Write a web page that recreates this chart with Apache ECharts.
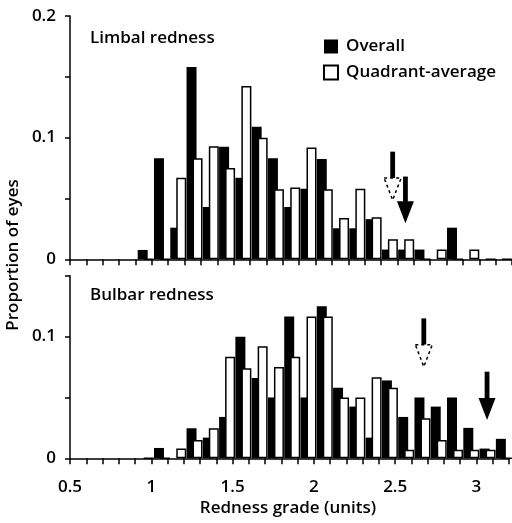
<!DOCTYPE html>
<html>
<head>
<meta charset="utf-8">
<script src="https://cdn.jsdelivr.net/npm/echarts@6/dist/echarts.min.js"></script>
<style>
html,body{margin:0;padding:0;background:#fff;}
#chart{width:512px;height:523px;}
</style>
</head>
<body>
<div id="chart"></div>
<script>
// Histogram bins (lower edge of each 0.1-wide redness-grade bin)
const bins = ['0.9','1.0','1.1','1.2','1.3','1.4','1.5','1.6','1.7','1.8','1.9','2.0',
              '2.1','2.2','2.3','2.4','2.5','2.6','2.7','2.8','2.9','3.0','3.1'];

// Limbal redness (top panel)
const limbalOverall = [0.0077,0.083,0.026,0.158,0.043,0.0926,0.067,0.109,0.083,0.043,0.058,0.0825,
                       0.0255,0.0255,0.033,0.008,0.008,0.008,0,0.026,0,0,0];
const limbalQuadrant = [0,0,0.067,0.083,0.093,0.075,0.1425,0.1,0.0575,0.059,0.092,0.0575,
                        0.034,0.058,0.0345,0.0165,0.0165,0,0.008,0,0.008,0,0];

// Bulbar redness (bottom panel)
const bulbarOverall = [0,0.0085,0,0.0247,0.017,0.034,0.1,0.066,0.05,0.1165,0.05,0.125,
                       0.058,0.0425,0.017,0.064,0.034,0.05,0.0425,0.05,0.025,0.008,0.016];
const bulbarQuadrant = [0,0,0.008,0.015,0.0247,0.0835,0.074,0.092,0.075,0.0835,0.1165,0.1165,
                        0.05,0.05,0.0666,0.058,0.007,0.033,0.015,0.007,0.007,0.007,0];

// Arrows: [x, shaft top, tip, dashed(1)/solid(0)]
const limbalArrows = [[2.471,0.0885,0.0487,1],[2.549,0.068,0.0296,0]];
const bulbarArrows = [[2.676,0.115,0.0753,1],[3.065,0.0712,0.0315,0]];

// Tick labels
const xTickLabels = ['0.5','1','1.5','2','2.5','3'];
const yTickLabelsTop = ['0','0.1','0.2'];
const yTickLabelsBottom = ['0','0.1'];
</script>
<script>
const FONT = "'Open Sans', sans-serif";
const FW = 600;
const chart = echarts.init(document.getElementById('chart'), null, {renderer:'canvas'});

function fmt(labels){
  return function(v){
    const s = String(parseFloat(v.toFixed(3)));
    return labels.indexOf(s) >= 0 ? s : '';
  };
}

const topG = {top:16, height:243.3};
const botG = {top:275.8, height:182.5};
const visL = 70, visR = -6;
const barL = 137.55, barW = 374.9;

const axisLine = {show:true, lineStyle:{color:'#000', width:1.5}};

function valueX(gi, showLabels){
  return {
    type:'value', gridIndex:gi, min:0.5, max:3.2, interval:0.1,
    axisLine: axisLine,
    axisTick:{show:true, inside:false, length:6, lineStyle:{color:'#000', width:1.5}},
    axisLabel:{show:showLabels, formatter:fmt(xTickLabels), color:'#000', fontSize:17,
               fontFamily:FONT, fontWeight:FW, margin:20},
    splitLine:{show:false}
  };
}
function valueY(gi, max, labels){
  return {
    type:'value', gridIndex:gi, min:0, max:max, interval:0.05,
    axisLine: axisLine,
    axisTick:{show:true, inside:false, length:5, lineStyle:{color:'#000', width:1.5}},
    axisLabel:{show:true, formatter:fmt(labels), color:'#000', fontSize:17,
               fontFamily:FONT, fontWeight:FW, margin:14},
    splitLine:{show:false}
  };
}
function hiddenY(gi, max){
  return {type:'value', gridIndex:gi, min:0, max:max, show:false, splitLine:{show:false}};
}
function hiddenCat(gi){
  return {type:'category', gridIndex:gi, data:bins, show:false, boundaryGap:true};
}

function arrowItem(params, api){
  const x = api.value(0), top = api.value(1), tip = api.value(2), dashed = api.value(3);
  const pTop = api.coord([x, top]);
  const pTip = api.coord([x, tip]);
  const headLen = 22, headHalf = 8.5, shaftHalf = 2.4;
  const baseY = pTip[1] - headLen;
  const children = [{
    type:'rect',
    shape:{x:pTop[0]-shaftHalf, y:pTop[1], width:shaftHalf*2, height:baseY - pTop[1] + (dashed ? 0 : 1)},
    style:{fill:'#000'}
  }];
  children.push({
    type:'polygon',
    shape:{points:[[pTip[0]-headHalf, baseY],[pTip[0]+headHalf, baseY],[pTip[0], pTip[1]]]},
    style: dashed ? {fill:'#fff', stroke:'#000', lineWidth:1.5, lineDash:[3,3]} : {fill:'#000'}
  });
  return {type:'group', children:children};
}

function barSeries(name, data, xi, yi, white){
  return {
    name:name, type:'bar', xAxisIndex:xi, yAxisIndex:yi, data:data,
    barWidth:10, barGap:'-40%',
    itemStyle: white ? {color:'#fff', borderColor:'#000', borderWidth:1.5} : {color:'#000'},
    emphasis:{disabled:true}
  };
}

const option = {
  animation:false,
  backgroundColor:'#fff',
  textStyle:{fontFamily:FONT},
  grid:[
    {left:visL, right:visR, top:topG.top, height:topG.height},
    {left:visL, right:visR, top:botG.top, height:botG.height},
    {left:barL, width:barW, top:topG.top, height:topG.height},
    {left:barL, width:barW, top:botG.top, height:botG.height}
  ],
  xAxis:[ valueX(0,false), valueX(1,true), hiddenCat(2), hiddenCat(3) ],
  yAxis:[ valueY(0,0.2,yTickLabelsTop), valueY(1,0.15,yTickLabelsBottom), hiddenY(2,0.2), hiddenY(3,0.15) ],
  legend:{
    orient:'vertical', left:323, top:38, padding:0, itemWidth:14, itemHeight:14, itemGap:9,
    icon:'rect', selectedMode:false,
    data:['Overall','Quadrant-average'],
    textStyle:{fontSize:17, color:'#000', fontFamily:FONT, fontWeight:FW, padding:[0,0,0,3]}
  },
  graphic:[
    {type:'text', left:90, top:30, style:{text:'Limbal redness', fontSize:17, fontFamily:FONT, fontWeight:FW, fill:'#000'}},
    {type:'text', left:90, top:287, style:{text:'Bulbar redness', fontSize:17, fontFamily:FONT, fontWeight:FW, fill:'#000'}},
    {type:'text', x:13, y:255, rotation:Math.PI/2,
     style:{text:'Proportion of eyes', fontSize:17, fontFamily:FONT, fontWeight:FW, fill:'#000',
            textAlign:'center', textVerticalAlign:'middle'}},
    {type:'text', x:288, y:508,
     style:{text:'Redness grade (units)', fontSize:17, fontFamily:FONT, fontWeight:FW, fill:'#000',
            textAlign:'center', textVerticalAlign:'middle'}}
  ],
  series:[
    barSeries('Overall', limbalOverall, 2, 2, false),
    barSeries('Quadrant-average', limbalQuadrant, 2, 2, true),
    barSeries('Overall', bulbarOverall, 3, 3, false),
    barSeries('Quadrant-average', bulbarQuadrant, 3, 3, true),
    {type:'custom', xAxisIndex:0, yAxisIndex:0, data:limbalArrows, renderItem:arrowItem, clip:false, silent:true},
    {type:'custom', xAxisIndex:1, yAxisIndex:1, data:bulbarArrows, renderItem:arrowItem, clip:false, silent:true}
  ]
};
chart.setOption(option);
</script>
</body>
</html>
